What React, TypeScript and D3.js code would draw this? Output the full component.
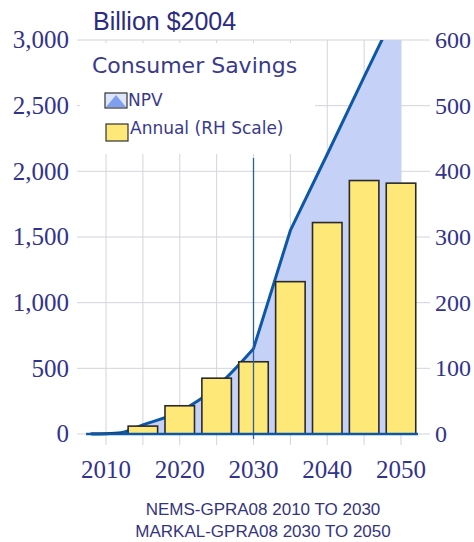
import React from "react";
import * as d3 from "d3";

const barYears = [2010, 2015, 2020, 2025, 2030, 2035, 2040, 2045, 2050];
const annualSavings = [1, 12, 43, 85, 110, 232, 322, 386, 382];

const npvYears = [2008, 2010, 2012, 2015, 2020, 2025, 2030, 2035, 2040, 2045, 2050];
const npvValues = [0, 2, 10, 70, 170, 360, 650, 1550, 2130, 2720, 3300];

const leftTicks = [0, 500, 1000, 1500, 2000, 2500, 3000];
const rightTicks = [0, 100, 200, 300, 400, 500, 600];
const xTicks = [2010, 2020, 2030, 2040, 2050];
const xGrid = [2010, 2015, 2020, 2025, 2030, 2035, 2040, 2045, 2050];

const title = "Billion $2004";
const legendTitle = "Consumer Savings";
const legendNPV = "NPV";
const legendAnnual = "Annual (RH Scale)";
const footer1 = "NEMS-GPRA08 2010 TO 2030";
const footer2 = "MARKAL-GPRA08 2030 TO 2050";

const NAVY = "#33338a";
const LINE = "#0d58a6";
const FILL = "#c6d1f7";
const BAR = "#fee877";
const GRID = "#d4d4dc";

export default function App() {
  const x = d3.scaleLinear().domain([2010, 2050]).range([106, 401]);
  const yL = d3.scaleLinear().domain([0, 3000]).range([434, 40]);
  const yR = d3.scaleLinear().domain([0, 600]).range([434, 40]);
  const barW = x(2014) - x(2010);

  const pts = npvYears.map((yr, i) => [yr, npvValues[i]] as [number, number]);
  // NEMS part (to 2030) is smooth; MARKAL part (2030 onward) is piecewise linear
  const smoothPts = pts.filter((p) => p[0] <= 2030);
  const linearPts = pts.filter((p) => p[0] > 2030);
  const smooth = d3
    .line<[number, number]>()
    .x((d) => x(d[0]))
    .y((d) => yL(d[1]))
    .curve(d3.curveMonotoneX);
  const linePath =
    (smooth(smoothPts) || "") +
    linearPts.map((p) => `L${x(p[0])},${yL(p[1])}`).join("");
  const first = pts[0];
  const last = pts[pts.length - 1];
  const areaPath =
    linePath + `L${x(last[0])},${yL(0)}L${x(first[0])},${yL(0)}Z`;

  const gridLeft = 77;
  const gridRight = 430;

  return (
    <svg
      width={474}
      height={542}
      style={{ position: "absolute", left: 0, top: 0, background: "#fff" }}
    >
      <defs>
        <clipPath id="plotclip">
          <rect x={60} y={yL(3000)} width={380} height={yL(0) - yL(3000) + 10} />
        </clipPath>
      </defs>

      {/* horizontal gridlines */}
      {leftTicks.map((t) => (
        <line
          key={"h" + t}
          x1={gridLeft}
          x2={gridRight}
          y1={yL(t)}
          y2={yL(t)}
          stroke={GRID}
          strokeWidth={1}
        />
      ))}
      {/* vertical gridlines */}
      {xGrid.map((t) => (
        <line
          key={"v" + t}
          x1={x(t)}
          x2={x(t)}
          y1={yL(3000)}
          y2={yL(0) + 11}
          stroke={GRID}
          strokeWidth={1}
        />
      ))}

      {/* legend background */}
      <rect x={80} y={43} width={235} height={111} fill="#fff" />

      {/* NPV area + line */}
      <g clipPath="url(#plotclip)">
        <path d={areaPath} fill={FILL} />
        <path d={linePath} fill="none" stroke={LINE} strokeWidth={3} strokeLinejoin="round" />
      </g>

      {/* bars */}
      {barYears.map((yr, i) => (
        <rect
          key={"b" + yr}
          x={x(yr) - barW / 2}
          y={yR(annualSavings[i])}
          width={barW}
          height={yR(0) - yR(annualSavings[i])}
          fill={BAR}
          stroke="#2a2a2a"
          strokeWidth={1.6}
        />
      ))}

      {/* 2030 marker line */}
      <line
        x1={x(2030)}
        x2={x(2030)}
        y1={158}
        y2={yL(0) + 5}
        stroke="#2a5f9e"
        strokeWidth={1.3}
      />

      {/* baseline */}
      <line
        x1={x(2007.3)}
        x2={x(2052.3)}
        y1={yL(0)}
        y2={yL(0)}
        stroke={LINE}
        strokeWidth={2.6}
      />

      {/* left axis labels */}
      {leftTicks.map((t) => (
        <text
          key={"l" + t}
          x={69}
          y={yL(t)}
          dy="0.33em"
          textAnchor="end"
          fontFamily="Liberation Serif"
          fontSize={25}
          fill={NAVY}
        >
          {d3.format(",")(t)}
        </text>
      ))}
      {/* right axis labels */}
      {rightTicks.map((t) => (
        <text
          key={"r" + t}
          x={435}
          y={yR(t)}
          dy="0.33em"
          textAnchor="start"
          fontFamily="Liberation Serif"
          fontSize={24}
          fill={NAVY}
        >
          {t}
        </text>
      ))}
      {/* x labels */}
      {xTicks.map((t) => (
        <text
          key={"x" + t}
          x={x(t)}
          y={478}
          textAnchor="middle"
          fontFamily="Liberation Serif"
          fontSize={25}
          fill={NAVY}
        >
          {t}
        </text>
      ))}

      {/* title */}
      <text x={93} y={30} fontFamily="Liberation Sans" fontSize={25} fill="#2b2b80">
        {title}
      </text>

      {/* legend */}
      <text x={92} y={73} fontFamily="DejaVu Sans" fontSize={22} fill="#3a3a8c">
        {legendTitle}
      </text>
      <rect x={105} y={93} width={22} height={15} fill="#dfe5fb" stroke="#333" strokeWidth={1.2} />
      <path d="M106,107 L116,95 L121,101 L126,107 Z" fill="#7f9ff0" />
      <text x={128} y={106} fontFamily="DejaVu Sans" fontSize={17} fill="#3a3a8c">
        {legendNPV}
      </text>
      <rect x={106} y={124} width={22} height={17} fill={BAR} stroke="#333" strokeWidth={1.2} />
      <text x={130} y={134} fontFamily="DejaVu Sans" fontSize={17} fill="#3a3a8c">
        {legendAnnual}
      </text>

      {/* footer */}
      <text x={263} y={515} textAnchor="middle" fontFamily="Liberation Sans" fontSize={17} fill="#35357d">
        {footer1}
      </text>
      <text x={263} y={537} textAnchor="middle" fontFamily="Liberation Sans" fontSize={17} fill="#35357d">
        {footer2}
      </text>
    </svg>
  );
}
